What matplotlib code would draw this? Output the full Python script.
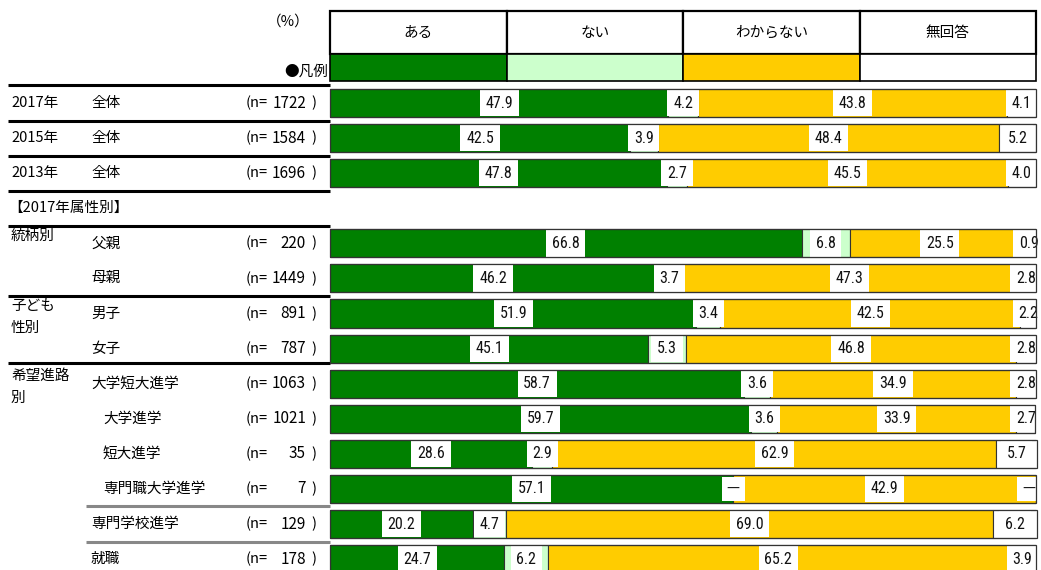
import matplotlib
matplotlib.use("Agg")
import matplotlib.pyplot as plt
from matplotlib.patches import Rectangle
from matplotlib import font_manager

# ---- data -------------------------------------------------------------
categories = ["ある", "ない", "わからない", "無回答"]
colors = ["#008000", "#CCFFCC", "#FFCC00", "#FFFFFF"]

group_labels = ["2017年", "2015年", "2013年", "統柄別", "", "子ども\n性別", "",
                "希望進路\n別", "", "", "", "", ""]
row_labels = ["全体", "全体", "全体", "父親", "母親", "男子", "女子",
              "大学短大進学", "大学進学", "短大進学", "専門職大学進学",
              "専門学校進学", "就職"]
row_n = [1722, 1584, 1696, 220, 1449, 891, 787, 1063, 1021, 35, 7, 129, 178]

aru       = [47.9, 42.5, 47.8, 66.8, 46.2, 51.9, 45.1, 58.7, 59.7, 28.6, 57.1, 20.2, 24.7]
nai       = [4.2, 3.9, 2.7, 6.8, 3.7, 3.4, 5.3, 3.6, 3.6, 2.9, 0.0, 4.7, 6.2]
wakaranai = [43.8, 48.4, 45.5, 25.5, 47.3, 42.5, 46.8, 34.9, 33.9, 62.9, 42.9, 69.0, 65.2]
mukaito   = [4.1, 5.2, 4.0, 0.9, 2.8, 2.2, 2.8, 2.8, 2.7, 5.7, 0.0, 6.2, 3.9]

section_title = "【2017年属性別】"

# ---- fonts ------------------------------------------------------------
jp = "Noto Sans CJK JP"
available = {f.name for f in font_manager.fontManager.ttflist}
num_font = "Liberation Sans"
for cand in ["Liberation Sans Narrow", "DejaVu Sans Condensed", "Roboto Condensed"]:
    if cand in available:
        num_font = cand
        break

# ---- layout -----------------------------------------------------------
W, H = 1041, 570
fig = plt.figure(figsize=(W / 100, H / 100), dpi=100)

# slot index for each row (slot 3 holds the section title)
slots = [0, 1, 2] + list(range(4, 14))
y_top, y_bot = -2.936, 13.31

ax = fig.add_axes([330 / W, 0, 706 / W, 1])
ax.set_xlim(0, 100)
ax.set_ylim(y_bot, y_top)
ax.axis("off")

ov = fig.add_axes([0, 0, 1, 1], zorder=-1)
ov.set_xlim(0, W)
ov.set_ylim(y_bot, y_top)
ov.axis("off")

series = [aru, nai, wakaranai, mukaito]
bar_h = 0.80

for i, s in enumerate(slots):
    left = 0.0
    for k, vals in enumerate(series):
        v = vals[i]
        ax.barh(s, v, left=left, height=bar_h, color=colors[k],
                edgecolor="#333333", linewidth=0.8, zorder=2)
        # keep value boxes at the right end inside the figure
        xc = min(left + v / 2, 99.0)
        if v == 0:
            ax.text(xc, s, "—", ha="center", va="center",
                    fontsize=10.5, family=jp, color="#111111", zorder=4,
                    bbox=dict(boxstyle="square,pad=0.35", fc="white", ec="none"))
        else:
            ax.text(xc, s, f"{v:.1f}", ha="center", va="center",
                    fontsize=11.5, family=num_font, color="#111111", zorder=4,
                    bbox=dict(boxstyle="square,pad=0.36", fc="white", ec="none"))
        left += v
    # outline of the whole bar drawn over the value boxes
    ax.add_patch(Rectangle((0, s - bar_h / 2), left, bar_h, fill=False,
                           ec="#333333", lw=0.9, zorder=5, clip_on=False))

# legend header
leg_top, leg_mid, leg_bot = -2.622, -1.397, -0.627
for k, cat in enumerate(categories):
    x0 = k * 25
    ax.add_patch(Rectangle((x0, leg_mid), 25, leg_top - leg_mid, fc="white",
                           ec="black", lw=1.6, zorder=3, clip_on=False))
    ax.add_patch(Rectangle((x0, leg_bot), 25, leg_mid - leg_bot, fc=colors[k],
                           ec="black", lw=1.2, zorder=3, clip_on=False))
    ax.text(x0 + 12.5, (leg_top + leg_mid) / 2, cat, ha="center", va="center",
            fontsize=10.5, family=jp, zorder=4)

ov.text(310, -2.31, "（%）", ha="right", va="center", fontsize=10.5, family=jp)
ov.text(328, -0.884, "●凡例", ha="right", va="center", fontsize=10.5, family=jp)

# left-hand row labels
indented = {"大学進学", "短大進学", "専門職大学進学"}
for i, s in enumerate(slots):
    g = group_labels[i]
    if g:
        if i < 3:
            ov.text(11, s, g, ha="left", va="center", fontsize=10.5, family=jp)
        else:
            for j, line in enumerate(g.split("\n")):
                ov.text(11, s - 0.22 + j * 0.63, line, ha="left", va="center",
                        fontsize=10.5, family=jp)
    lab = row_labels[i]
    ov.text(103 if lab in indented else 91, s, lab, ha="left", va="center",
            fontsize=10.5, family=jp)
    ov.text(246, s, "(n=", ha="left", va="center", fontsize=10.5, family=jp)
    ov.text(306, s, f"{row_n[i]}", ha="right", va="center", fontsize=11, family=jp)
    ov.text(316, s, ")", ha="right", va="center", fontsize=10.5, family=jp)

ov.text(8, 3, section_title, ha="left", va="center", fontsize=10.5, family=jp)

# separator rules
for yy in [-0.51, 0.5, 1.5, 2.5, 3.5, 5.5, 7.42]:
    ov.plot([8, 330], [yy, yy], color="black", lw=2.2, solid_capstyle="butt")
for yy in [11.5, 12.5]:
    ov.plot([86, 330], [yy, yy], color="#888888", lw=2.2, solid_capstyle="butt")

fig.savefig("out.png", dpi=100, facecolor="white")
